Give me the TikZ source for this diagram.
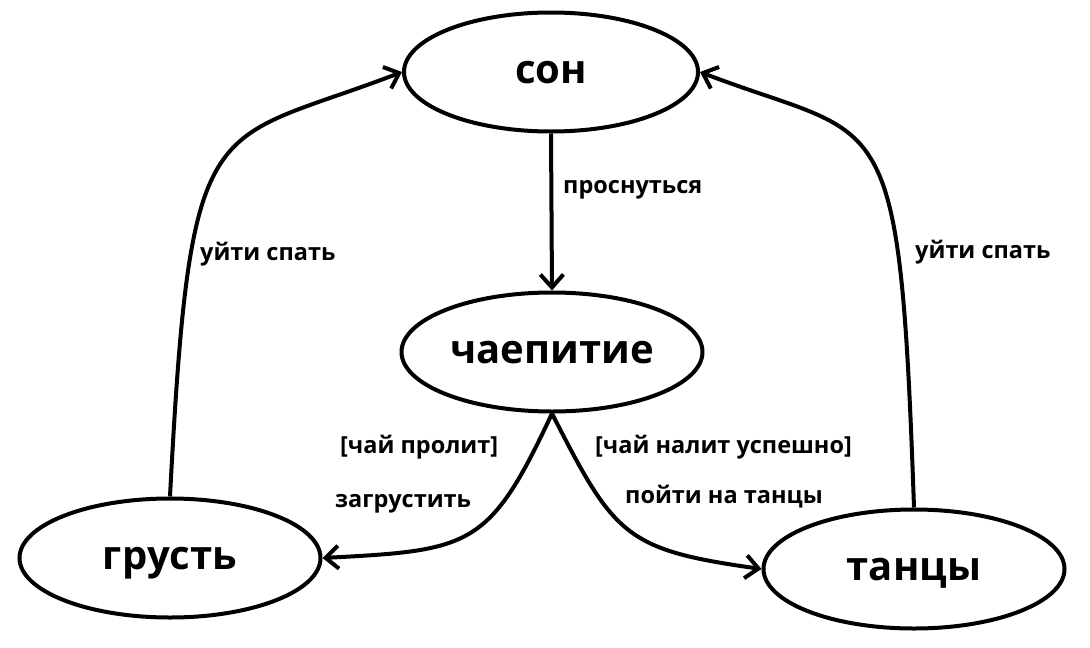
\documentclass[tikz,border=0pt]{standalone}
\usepackage{fontspec}
\setmainfont{Open Sans}
\usetikzlibrary{arrows.meta,shapes.geometric}

\begin{document}
\begin{tikzpicture}[
    x=1pt, y=1pt,
    every node/.style={font=\bfseries},
    state/.style={draw, ellipse, line width=4pt, minimum width=301pt, minimum height=119pt, text height=23pt, text depth=0pt, font=\fontsize{40}{44}\selectfont\bfseries},
    act/.style={anchor=base west, inner sep=0pt, font=\fontsize{23.5}{27}\selectfont\bfseries},
    trans/.style={-{Straight Barb[length=13pt, width=23pt]}, line width=4pt}
]
\useasboundingbox (0,0) rectangle (1090,-648);
\node[state, minimum width=294pt] (son) at (551,-72) {сон};
\node[state] (tea) at (552,-352) {чаепитие};
\node[state] (sad) at (170,-558) {грусть};
\node[state] (dance) at (914,-569) {танцы};
\node[act] (wake) at (563,-193) {проснуться};
\node[act] (sleepL) at (200,-260) {уйти спать};
\node[act] (sleepR) at (915,-258) {уйти спать};
\node[act] (spilt) at (340,-453) {[чай пролит]};
\node[act] (grieve) at (335,-507) {загрустить};
\node[act] (poured) at (595,-453) {[чай налит успешно]};
\node[act] (godance) at (625,-503) {пойти на танцы};
\draw[trans] (son.south) -- (tea.north);
\draw[trans] (sad.north) to[out=87, in=201, out looseness=2.1, in looseness=1.1] (son.west);
\draw[trans] (dance.north) to[out=92, in=-21, out looseness=2.2, in looseness=1.05] (son.east);
\draw[trans] (tea.south) to[out=245, in=3, looseness=1.4] (sad.east);
\draw[trans] (tea.south) to[out=-63, in=172, looseness=1.35] (dance.west);
\end{tikzpicture}
\end{document}
